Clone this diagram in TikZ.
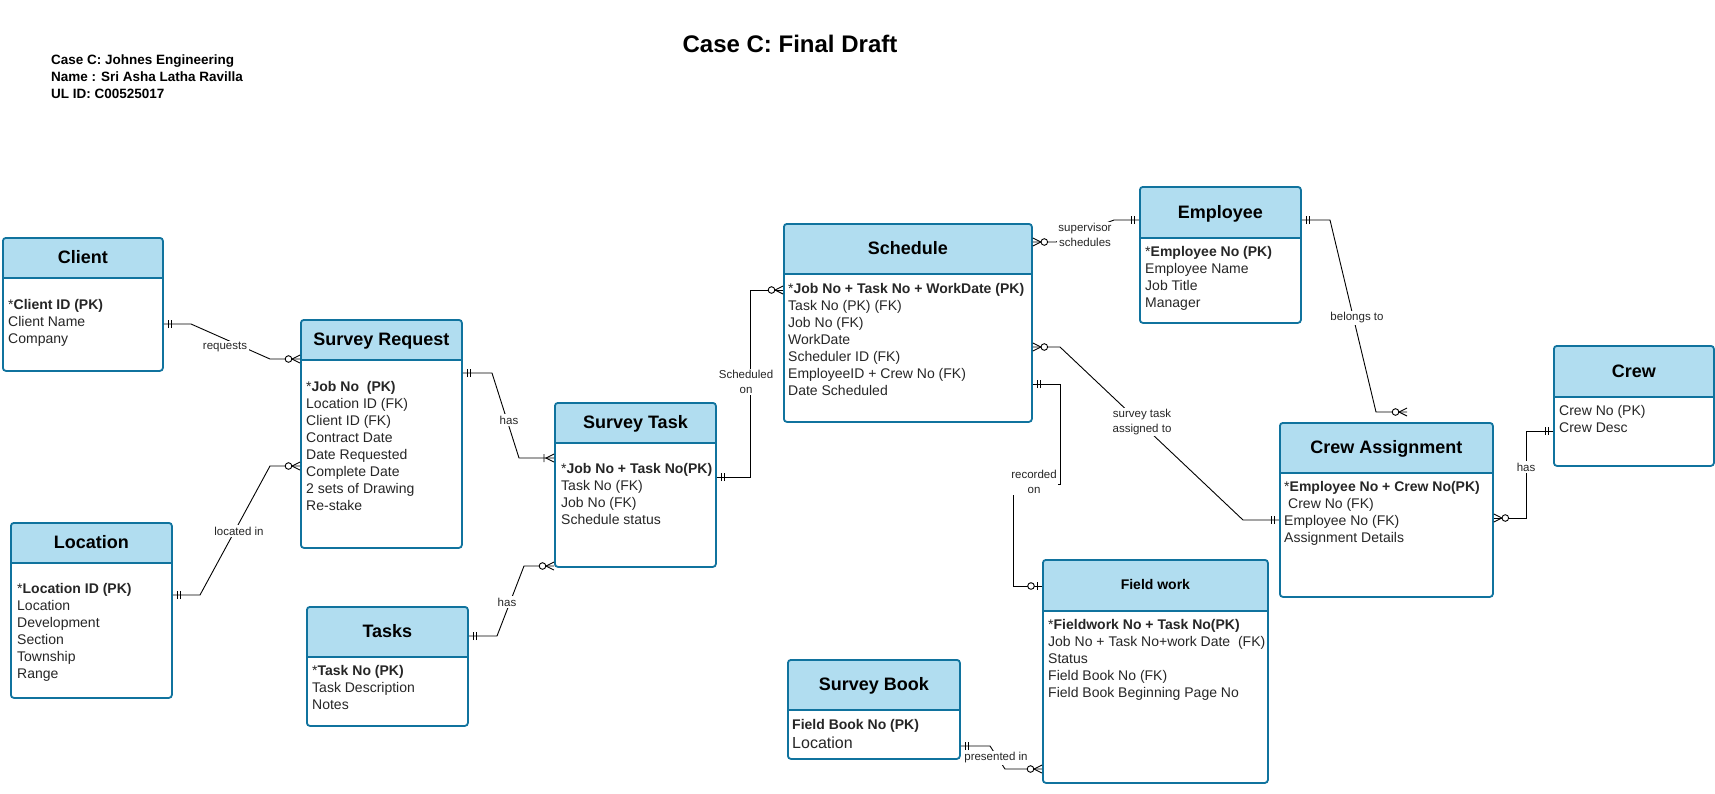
\documentclass[tikz,border=0pt]{standalone}
\usepackage{fontspec}
\setmainfont{Liberation Sans}

\definecolor{erline}{HTML}{10739E}
\definecolor{erhead}{HTML}{B1DDF0}
\definecolor{ertext}{HTML}{262626}

\tikzset{
  conn/.style={draw=black, line width=0.9pt},
  pics/mone/.style={code={\draw[conn] (-4.5,-4) -- (-4.5,4) (-8,-4) -- (-8,4);}},
  pics/zmany/.style={code={\draw[conn] (0,-4) -- (-8,0) -- (0,4); \draw[conn,fill=white] (-11.5,0) circle (3.3pt);}},
  pics/omany/.style={code={\draw[conn] (0,-4) -- (-8,0) -- (0,4) (-10,-4) -- (-10,4);}},
  pics/zone/.style={code={\draw[conn] (-4.5,-4) -- (-4.5,4); \draw[conn,fill=white] (-11,0) circle (3.3pt);}}
}

\begin{document}
\begin{tikzpicture}[x=1pt, y=-1pt,
  entity/.style={draw=erline, line width=1.8pt, rounded corners=3pt, fill=white, inner sep=0pt, anchor=north west,
    path picture={\fill[erhead, sharp corners] (path picture bounding box.north west) rectangle ([yshift=-#1pt]path picture bounding box.north east);
      \draw[erline, line width=1.6pt, sharp corners] ([yshift=-#1pt]path picture bounding box.north west) -- ([yshift=-#1pt]path picture bounding box.north east);}},
  etitle/.style={font=\fontsize{18}{21}\selectfont\bfseries, text height=13pt, text depth=0pt, inner sep=0pt},
  attr/.style={font=\fontsize{14}{17}\selectfont, text=ertext, align=left, anchor=north west, inner sep=0pt},
  lbl/.style={font=\fontsize{11.5}{14.5}\selectfont, text=ertext, fill=white, inner sep=1.5pt, align=center}]
\fill[white] (0,0) rectangle (1715,793);
\useasboundingbox (0,0) rectangle (1715,793);

\node[font=\fontsize{24}{28}\selectfont\bfseries, text height=17pt, text depth=0pt, inner sep=0pt] (title) at (790,44) {Case C: Final Draft};
\node[font=\fontsize{13.5}{17}\selectfont\bfseries, align=left, anchor=north west, inner sep=0pt] (info) at (51,55) {Case C: Johnes Engineering\\Name : Sri Asha Latha Ravilla\\UL ID: C00525017};

\node[entity=40, minimum width=160pt, minimum height=133pt] (client) at (2,237) {};
\node[etitle] (clientT) at ([yshift=-20pt]client.north) {Client};
\node[attr] (clientA) at ([xshift=6pt, yshift=-62pt]client.north west) {*\textbf{Client ID (PK)}\\Client Name\\Company};

\node[entity=40, minimum width=161pt, minimum height=228pt] (surveyreq) at (300,319) {};
\node[etitle] (surveyreqT) at ([yshift=-20pt]surveyreq.north) {Survey Request};
\node[attr] (surveyreqA) at ([xshift=6pt, yshift=-62pt]surveyreq.north west) {*\textbf{Job No\ \ (PK)}\\Location ID (FK)\\Client ID (FK)\\Contract Date\\Date Requested\\Complete Date\\2 sets of Drawing\\Re-stake};

\node[entity=40, minimum width=161pt, minimum height=175pt] (location) at (10,522) {};
\node[etitle] (locationT) at ([yshift=-20pt]location.north) {Location};
\node[attr] (locationA) at ([xshift=7pt, yshift=-61pt]location.north west) {*\textbf{Location ID (PK)}\\Location\\Development\\Section\\Township\\Range};

\node[entity=50, minimum width=161pt, minimum height=119pt] (tasks) at (306,606) {};
\node[etitle] (tasksT) at ([yshift=-25pt]tasks.north) {Tasks};
\node[attr] (tasksA) at ([xshift=6pt, yshift=-59pt]tasks.north west) {*\textbf{Task No (PK)}\\Task Description\\Notes};

\node[entity=40, minimum width=161pt, minimum height=164pt] (surveytask) at (554,402) {};
\node[etitle] (surveytaskT) at ([yshift=-20pt]surveytask.north) {Survey Task};
\node[attr] (surveytaskA) at ([xshift=7pt, yshift=-61pt]surveytask.north west) {*\textbf{Job No + Task No(PK)}\\Task No (FK)\\Job No (FK)\\Schedule status};

\node[entity=50, minimum width=248pt, minimum height=198pt] (schedule) at (783,223) {};
\node[etitle] (scheduleT) at ([yshift=-25pt]schedule.north) {Schedule};
\node[attr] (scheduleA) at ([xshift=5pt, yshift=-60pt]schedule.north west) {*\textbf{Job No + Task No + WorkDate (PK)}\\Task No (PK) (FK)\\Job No (FK)\\WorkDate\\Scheduler ID (FK)\\EmployeeID + Crew No (FK)\\Date Scheduled};

\node[entity=51, minimum width=161pt, minimum height=136pt] (employee) at (1139,186) {};
\node[etitle] (employeeT) at ([yshift=-25.5pt]employee.north) {Employee};
\node[attr] (employeeA) at ([xshift=6pt, yshift=-60pt]employee.north west) {*\textbf{Employee No (PK)}\\Employee Name\\Job Title\\Manager};

\node[entity=51, minimum width=160pt, minimum height=120pt] (crew) at (1553,345) {};
\node[etitle] (crewT) at ([yshift=-25.5pt]crew.north) {Crew};
\node[attr] (crewA) at ([xshift=6pt, yshift=-60pt]crew.north west) {Crew No (PK)\\Crew Desc};

\node[entity=50, minimum width=213pt, minimum height=174pt] (crewasg) at (1279,422) {};
\node[etitle] (crewasgT) at ([yshift=-25pt]crewasg.north) {Crew Assignment};
\node[attr] (crewasgA) at ([xshift=5pt, yshift=-59pt]crewasg.north west) {*\textbf{Employee No + Crew No(PK)}\\\hspace*{4pt}Crew No (FK)\\Employee No (FK)\\Assignment Details};

\node[entity=51, minimum width=225pt, minimum height=223pt] (fieldwork) at (1042,559) {};
\node[font=\fontsize{14}{17}\selectfont\bfseries, text height=10pt, text depth=0pt, inner sep=0pt] (fieldworkT) at ([yshift=-25.5pt]fieldwork.north) {Field work};
\node[attr] (fieldworkA) at ([xshift=6pt, yshift=-60pt]fieldwork.north west) {*\textbf{Fieldwork No + Task No(PK)}\\Job No + Task No+work Date\ \ (FK)\\Status\\Field Book No (FK)\\Field Book Beginning Page No};

\node[entity=50, minimum width=172pt, minimum height=99pt] (surveybook) at (787,659) {};
\node[etitle] (surveybookT) at ([yshift=-25pt]surveybook.north) {Survey Book};
\node[attr] (surveybookA) at ([xshift=5pt, yshift=-60pt]surveybook.north west) {\textbf{Field Book No (PK)}\\[2.5pt]{\fontsize{16}{19}\selectfont Location}};

\coordinate (caTop) at (1407,412);

\draw[conn] (client.east |- 0,324) -- (191,324) -- (270,359) -- (surveyreq.west |- 0,359);
\draw[conn] (location.east |- 0,595) -- (200,595) -- (270,466) -- (surveyreq.west |- 0,466);
\draw[conn] (surveyreq.east |- 0,373) -- (492,373) -- (519,458) -- (surveytask.west |- 0,458);
\draw[conn] (tasks.east |- 0,636) -- (497,636) -- (524,566) -- (surveytask.west |- 0,566);
\draw[conn] (surveytask.east |- 0,477) -- (750,477) -- (750,290) -- (schedule.west |- 0,290);
\draw[conn] (schedule.east |- 0,242) -- (1056,242) -- (1114,220) -- (employee.west |- 0,220);
\draw[conn] (employee.east |- 0,220) -- (1330,220) -- (1376,412) -- (caTop);
\draw[conn] (schedule.east |- 0,347) -- (1060,347) -- (1243,520) -- (crewasg.west |- 0,520);
\draw[conn] (schedule.east |- 0,384) -- (1060,384) -- (1060,484) -- (1013,484) -- (1013,586) -- (fieldwork.west |- 0,586);
\draw[conn] (surveybook.east |- 0,746) -- (990,746) -- (1005,769) -- (fieldwork.west |- 0,769);
\draw[conn] (crew.west |- 0,431) -- (1526,431) -- (1526,518) -- (crewasg.east |- 0,518);

\pic[rotate=180] at (client.east |- 0,324) {mone};
\pic at (surveyreq.west |- 0,359) {zmany};
\pic[rotate=180] at (location.east |- 0,595) {mone};
\pic at (surveyreq.west |- 0,466) {zmany};
\pic[rotate=180] at (surveyreq.east |- 0,373) {mone};
\pic at (surveytask.west |- 0,458) {omany};
\pic[rotate=180] at (tasks.east |- 0,636) {mone};
\pic at (surveytask.west |- 0,566) {zmany};
\pic[rotate=180] at (surveytask.east |- 0,477) {mone};
\pic at (schedule.west |- 0,290) {zmany};
\pic[rotate=180] at (schedule.east |- 0,242) {zmany};
\pic at (employee.west |- 0,220) {mone};
\pic[rotate=180] at (employee.east |- 0,220) {mone};
\pic at (caTop) {zmany};
\pic[rotate=180] at (schedule.east |- 0,347) {zmany};
\pic at (crewasg.west |- 0,520) {mone};
\pic[rotate=180] at (schedule.east |- 0,384) {mone};
\pic at (fieldwork.west |- 0,586) {zone};
\pic[rotate=180] at (surveybook.east |- 0,746) {mone};
\pic at (fieldwork.west |- 0,769) {zmany};
\pic at (crew.west |- 0,431) {mone};
\pic[rotate=180] at (crewasg.east |- 0,518) {zmany};

\node[lbl] (lRequests) at (225,347) {requests};
\node[lbl] (lLocated) at (239,531) {located in};
\node[lbl] (lHasTask) at (509,420) {has};
\node[lbl] (lHasTasks) at (507,602) {has};
\node[lbl] (lScheduled) at (746,382) {Scheduled\\on};
\node[lbl] (lSupervisor) at (1085,235) {supervisor\\schedules};
\node[lbl] (lBelongs) at (1357,318) {belongs to};
\node[lbl] (lAssigned) at (1142,422) {survey task\\assigned to};
\node[lbl] (lRecorded) at (1034,482) {recorded\\on};
\node[lbl] (lPresented) at (996,758) {presented in};
\node[lbl] (lHasCrew) at (1526,467) {has};
\end{tikzpicture}
\end{document}
